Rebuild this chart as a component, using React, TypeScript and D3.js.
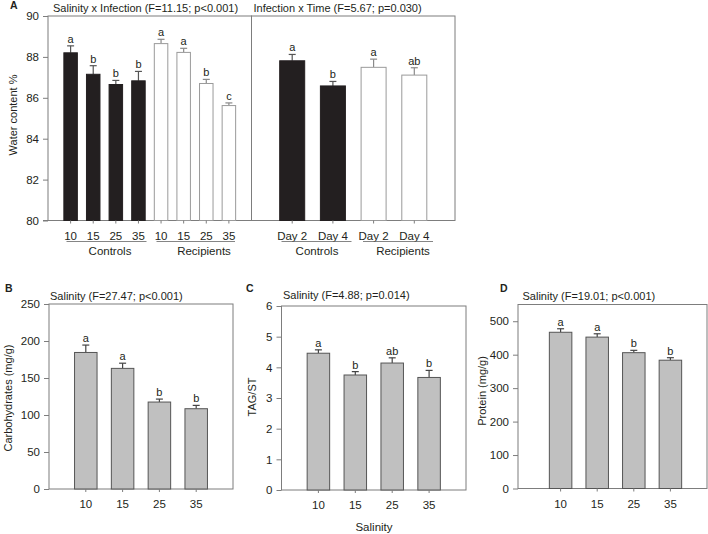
import React, { useEffect, useRef } from "react";
import * as d3 from "d3";

// Panel A - water content
const salinityLevels = ["10", "15", "25", "35"];
const waterControls = [88.2, 87.15, 86.65, 86.83];
const waterControlsErr = [0.34, 0.42, 0.2, 0.46];
const waterRecipients = [88.65, 88.22, 86.7, 85.62];
const waterRecipientsErr = [0.21, 0.2, 0.2, 0.13];
const waterLetters = ["a", "b", "b", "b", "a", "a", "b", "c"];
const waterTicks = [80, 82, 84, 86, 88, 90];

const days = ["Day 2", "Day 4"];
const timeControls = [87.81, 86.58];
const timeControlsErr = [0.31, 0.22];
const timeRecipients = [87.49, 87.11];
const timeRecipientsErr = [0.4, 0.36];
const timeLetters = ["a", "b", "a", "ab"];

// Panels B-D
const carbs = [184.5, 163, 117.5, 108.5];
const carbsErr = [10, 7, 4, 4.5];
const carbsLetters = ["a", "a", "b", "b"];
const carbsTicks = [0, 50, 100, 150, 200, 250];

const tag = [4.46, 3.75, 4.14, 3.67];
const tagErr = [0.11, 0.11, 0.17, 0.23];
const tagLetters = ["a", "b", "ab", "b"];
const tagTicks = [0, 1, 2, 3, 4, 5, 6];

const protein = [467, 452.5, 406, 383.5];
const proteinErr = [10.5, 10, 7, 7.5];
const proteinLetters = ["a", "a", "b", "b"];
const proteinTicks = [0, 100, 200, 300, 400, 500];

const FONT = "Liberation Sans, Arial, sans-serif";
const AXIS = "#7d7d7d";
const TXT = "#231f20";
const FS = 11;

const App = () => {
  const ref = useRef<SVGSVGElement | null>(null);

  useEffect(() => {
    const svg = d3.select(ref.current);
    svg.selectAll("*").remove();
    svg.style("font-family", FONT);

    const text = (x, y, s, size = FS, anchor = "start", weight = "normal") =>
      svg
        .append("text")
        .attr("x", x)
        .attr("y", y)
        .attr("font-size", size)
        .attr("font-weight", weight)
        .attr("text-anchor", anchor)
        .attr("fill", TXT)
        .text(s);

    const vlabel = (x, y, s) =>
      svg
        .append("text")
        .attr("transform", `translate(${x},${y}) rotate(-90)`)
        .attr("text-anchor", "middle")
        .attr("dominant-baseline", "central")
        .attr("font-size", FS)
        .attr("fill", TXT)
        .text(s);

    // bars + error bars + letters
    const bars = (x, y, vals, errs, letters, w, fill, stroke, errColor) => {
      const base = y.range()[0];
      vals.forEach((v, i) => {
        const cx = x(i + 1);
        const top = y(v);
        const et = y(v + errs[i]);
        svg
          .append("line")
          .attr("x1", cx).attr("x2", cx)
          .attr("y1", top).attr("y2", et)
          .attr("stroke", errColor).attr("stroke-width", 1.2);
        svg
          .append("line")
          .attr("x1", cx - 3.5).attr("x2", cx + 3.5)
          .attr("y1", et).attr("y2", et)
          .attr("stroke", errColor).attr("stroke-width", 1.2);
        svg
          .append("rect")
          .attr("x", cx - w / 2)
          .attr("y", top)
          .attr("width", w)
          .attr("height", base - top)
          .attr("fill", fill)
          .attr("stroke", stroke)
          .attr("stroke-width", 1);
        text(cx, et - 3, letters[i], 11, "middle");
      });
    };

    const box = (x0, x1, y0, y1) =>
      svg
        .append("rect")
        .attr("x", x0).attr("y", y0)
        .attr("width", x1 - x0).attr("height", y1 - y0)
        .attr("fill", "none").attr("stroke", AXIS).attr("stroke-width", 1);

    const yAxis = (x0, y, ticks) => {
      svg
        .append("g")
        .attr("transform", `translate(${x0},0)`)
        .call(d3.axisLeft(y).tickValues(ticks).tickSize(5).tickPadding(4).tickFormat(d3.format("d")))
        .call((g) => g.select(".domain").remove())
        .call((g) => g.selectAll("line").attr("stroke", AXIS))
        .call((g) =>
          g.selectAll("text").attr("font-size", 11.5).attr("font-family", FONT).attr("fill", TXT)
        );
    };

    const xTicks = (x, n, yb, labels) => {
      for (let i = 1; i <= n; i++) {
        svg
          .append("line")
          .attr("x1", x(i)).attr("x2", x(i))
          .attr("y1", yb).attr("y2", yb + 3)
          .attr("stroke", AXIS);
        if (labels) text(x(i), yb + 19, labels[i - 1], 11.5, "middle");
      }
    };

    // ---------- Panel A ----------
    const yA = d3.scaleLinear().domain([80, 90]).range([220.5, 16]);
    const xA1 = d3.scaleLinear().domain([0, 9]).range([48, 251.5]);
    const xA2 = d3.scaleLinear().domain([0, 5]).range([251.5, 455]);

    box(48, 251.5, 16, 220.5);
    box(251.5, 455, 16, 220.5);
    svg.append("line").attr("x1", 43).attr("x2", 48).attr("y1", 220.5).attr("y2", 220.5).attr("stroke", AXIS);
    yAxis(48, yA, waterTicks);

    bars(xA1, yA, waterControls, waterControlsErr, waterLetters.slice(0, 4), 13.5, "#231f20", "#231f20", "#555");
    bars(
      (i) => xA1(i + 4), yA, waterRecipients, waterRecipientsErr, waterLetters.slice(4),
      13.5, "#fff", "#9a9a9a", "#8a8a8a"
    );
    bars(xA2, yA, timeControls, timeControlsErr, timeLetters.slice(0, 2), 25, "#231f20", "#231f20", "#555");
    bars(
      (i) => xA2(i + 2), yA, timeRecipients, timeRecipientsErr, timeLetters.slice(2),
      25, "#fff", "#9a9a9a", "#8a8a8a"
    );

    xTicks(xA1, 8, 220.5, salinityLevels.concat(salinityLevels));
    xTicks(xA2, 4, 220.5, days.concat(days));

    const group = (x1, x2, cx, label) => {
      svg.append("line").attr("x1", x1).attr("x2", x2).attr("y1", 241.5).attr("y2", 241.5)
        .attr("stroke", "#666").attr("stroke-width", 0.8);
      text(cx, 255, label, 11.5, "middle");
    };
    group(66.5, 146.5, 110, "Controls");
    group(156.5, 235, 204, "Recipients");
    group(281.5, 351.5, 317, "Controls");
    group(363, 433, 403, "Recipients");

    text(53, 12, "Salinity x Infection (F=11.15; p<0.001)");
    text(253.5, 12, "Infection x Time (F=5.67; p=0.030)");
    text(10, 9, "A", 10.5, "start", "bold");
    vlabel(13, 115, "Water content %");

    // ---------- Panel B ----------
    const yB = d3.scaleLinear().domain([0, 250]).range([489, 304]);
    const xB = d3.scaleLinear().domain([0, 5]).range([49, 233]);
    box(49, 233, 304, 489);
    yAxis(49, yB, carbsTicks);
    bars(xB, yB, carbs, carbsErr, carbsLetters, 22.5, "#c0c0c0", "#555", "#444");
    xTicks(xB, 4, 489, salinityLevels);
    text(50, 300, "Salinity (F=27.47; p<0.001)");
    text(5, 292, "B", 10.5, "start", "bold");
    vlabel(8, 398, "Carbohydrates (mg/g)");

    // ---------- Panel C ----------
    const yC = d3.scaleLinear().domain([0, 6]).range([490, 306]);
    const xC = d3.scaleLinear().domain([0, 5]).range([281.5, 466]);
    box(281.5, 466, 306, 490);
    yAxis(281.5, yC, tagTicks);
    bars(xC, yC, tag, tagErr, tagLetters, 22.5, "#c0c0c0", "#555", "#444");
    xTicks(xC, 4, 490, salinityLevels);
    text(283, 299, "Salinity (F=4.88; p=0.014)");
    text(246, 292, "C", 10.5, "start", "bold");
    vlabel(252, 397, "TAG/ST");
    text(374, 531, "Salinity", 11.5, "middle");

    // ---------- Panel D ----------
    const yD = d3.scaleLinear().domain([0, 550]).range([488.5, 304.5]);
    const xD = d3.scaleLinear().domain([0, 5]).range([524, 707]);
    box(518, 707, 304.5, 488.5);
    yAxis(518, yD, proteinTicks);
    bars(xD, yD, protein, proteinErr, proteinLetters, 22.5, "#c0c0c0", "#555", "#444");
    xTicks(xD, 4, 488.5, salinityLevels);
    text(522.5, 300, "Salinity (F=19.01; p<0.001)");
    text(500, 292, "D", 10.5, "start", "bold");
    vlabel(482, 391, "Protein (mg/g)");
  }, []);

  return (
    <div style={{ position: "absolute", left: 0, top: 0 }}>
      <svg ref={ref} width={708} height={534} style={{ display: "block", background: "#fff" }} />
    </div>
  );
};

export default App;
